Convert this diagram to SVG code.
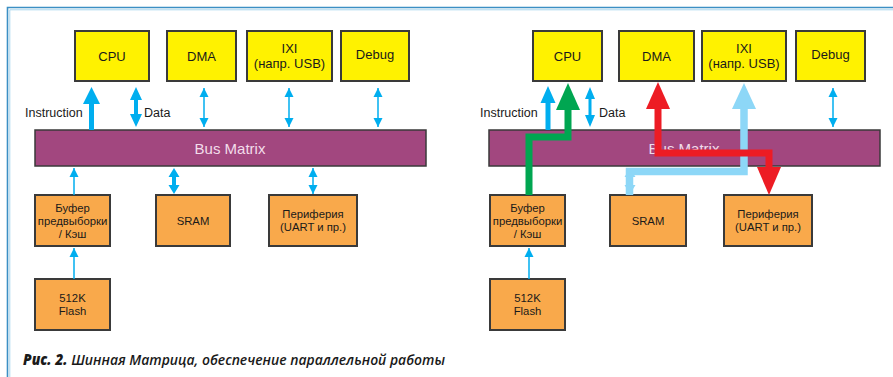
<svg xmlns="http://www.w3.org/2000/svg" width="893" height="377" viewBox="0 0 893 377">
<style>
.y{fill:#fff200;stroke:#3a3a3a;stroke-width:2}
.o{fill:#f9a94b;stroke:#3a3a3a;stroke-width:2}
.bm{fill:#a2477f;stroke:#3a3a3a;stroke-width:1.5}
.t{font-family:"Liberation Sans",Arial,sans-serif;font-size:13px;fill:#1a1a1a;text-anchor:middle}
.s{font-family:"Liberation Sans",Arial,sans-serif;font-size:11.3px;fill:#1a1a1a;text-anchor:middle}
.l{font-family:"Liberation Sans",Arial,sans-serif;font-size:12.5px;fill:#1a1a1a}
.bt{font-family:"Liberation Sans",Arial,sans-serif;font-size:15px;fill:#f2dcea;text-anchor:middle}
.thin{stroke:#00aeef;stroke-width:1.5;fill:none}
.b{fill:#00aeef}
.lb{fill:#8dd7f7}
</style>
<defs>
<marker id="th" markerUnits="userSpaceOnUse" markerWidth="9" markerHeight="10" refX="9" refY="4.5" orient="auto-start-reverse" viewBox="0 0 9 9"><path d="M0,0 L9,4.5 L0,9 z" fill="#00aeef"/></marker>
</defs>
<g id="frame" fill="none">
<path d="M893,7.5 H7.5 V377" stroke="#3b8fc4" stroke-width="1.6"/>
<path d="M893,9.8 H9.8 V377" stroke="#a9d6ee" stroke-width="1"/>
</g>
<!-- left diagram -->
<g id="L-cpu"><rect class="y" x="75" y="31" width="74" height="50"/><text class="t" x="112" y="61">CPU</text></g>
<g id="L-dma"><rect class="y" x="167" y="31" width="69" height="50"/><text class="t" x="201.5" y="61">DMA</text></g>
<g id="L-ixi"><rect class="y" x="247" y="31" width="85" height="50"/><text class="t" x="289.5" y="53">IXI</text><text class="t" x="289.5" y="68">(напр. USB)</text></g>
<g id="L-debug"><rect class="y" x="341" y="31" width="68" height="50"/><text class="t" x="375" y="59">Debug</text></g>
<g id="L-bus"><rect class="bm" x="35" y="130" width="391" height="36"/><text class="bt" x="230" y="154">Bus Matrix</text></g>
<g id="L-buf"><rect class="o" x="35" y="195" width="75" height="51"/><text class="s" x="72.5" y="212">Буфер</text><text class="s" x="72.5" y="225">предвыборки</text><text class="s" x="72.5" y="238">/ Кэш</text></g>
<g id="L-sram"><rect class="o" x="156" y="195" width="74" height="51"/><text class="s" x="193" y="225">SRAM</text></g>
<g id="L-per"><rect class="o" x="269" y="195" width="88" height="51"/><text class="s" x="313" y="218">Периферия</text><text class="s" x="313" y="231">(UART и пр.)</text></g>
<g id="L-flash"><rect class="o" x="35" y="279" width="75" height="51"/><text class="s" x="72.5" y="302">512K</text><text class="s" x="72.5" y="315">Flash</text></g>
<!-- right diagram -->
<g id="R-cpu"><rect class="y" x="533" y="31" width="69" height="50"/><text class="t" x="567.5" y="61">CPU</text></g>
<g id="R-dma"><rect class="y" x="619" y="31" width="75" height="50"/><text class="t" x="656.5" y="61">DMA</text></g>
<g id="R-ixi"><rect class="y" x="702" y="31" width="84" height="50"/><text class="t" x="744" y="53">IXI</text><text class="t" x="744" y="68">(напр. USB)</text></g>
<g id="R-debug"><rect class="y" x="796" y="31" width="69" height="50"/><text class="t" x="830.5" y="59">Debug</text></g>
<g id="R-bus"><rect class="bm" x="489" y="130" width="391" height="36"/><text class="bt" x="684" y="154">Bus Matrix</text></g>
<g id="R-buf"><rect class="o" x="490" y="195" width="75" height="51"/><text class="s" x="527.5" y="212">Буфер</text><text class="s" x="527.5" y="225">предвыборки</text><text class="s" x="527.5" y="238">/ Кэш</text></g>
<g id="R-sram"><rect class="o" x="610" y="195" width="76" height="51"/><text class="s" x="648" y="225">SRAM</text></g>
<g id="R-per"><rect class="o" x="724" y="195" width="88" height="51"/><text class="s" x="768" y="218">Периферия</text><text class="s" x="768" y="231">(UART и пр.)</text></g>
<g id="R-flash"><rect class="o" x="490" y="279" width="75" height="51"/><text class="s" x="527.5" y="302">512K</text><text class="s" x="527.5" y="315">Flash</text></g>
<g id="labels">
<text class="l" x="25" y="117">Instruction</text>
<text class="l" x="144" y="117">Data</text>
<text class="l" x="480" y="117">Instruction</text>
<text class="l" x="599" y="117">Data</text>
</g>
<g id="connectors">
<!-- left -->
<polygon class="b" points="89,130 89,104 83,104 91.5,87 100,104 94,104 94,130"/>
<polygon class="b" points="134,100 130,100 136,87 142,100 138,100 138,114 142,114 136,127 130,114 134,114"/>
<line class="thin" x1="204" y1="88" x2="204" y2="127" marker-start="url(#th)" marker-end="url(#th)"/>
<line class="thin" x1="289" y1="88" x2="289" y2="127" marker-start="url(#th)" marker-end="url(#th)"/>
<line class="thin" x1="378" y1="88" x2="378" y2="127" marker-start="url(#th)" marker-end="url(#th)"/>
<line class="thin" x1="74" y1="195" x2="74" y2="168" marker-end="url(#th)"/>
<polygon class="b" points="172,177 168.5,177 174,168 179.5,177 176,177 176,185 179.5,185 174,194 168.5,185 172,185"/>
<line class="thin" x1="313" y1="168" x2="313" y2="194" marker-start="url(#th)" marker-end="url(#th)"/>
<line class="thin" x1="74" y1="279" x2="74" y2="248" marker-end="url(#th)"/>
<!-- right -->
<polygon class="b" points="545.5,130 545.5,103 540.5,103 548,86 555.5,103 550.5,103 550.5,130"/>
<polygon class="b" points="588.5,99 585,99 590,87 595,99 591.5,99 591.5,115 595,115 590,127 585,115 588.5,115"/>
<line class="thin" x1="833" y1="88" x2="833" y2="127" marker-start="url(#th)" marker-end="url(#th)"/>
<line class="thin" x1="529" y1="279" x2="529" y2="248" marker-end="url(#th)"/>
<polygon class="lb" points="628,177 624.5,177 630,168 635.5,177 632,177 632,185 635.5,185 630,194 624.5,185 628,185"/>
<path d="M744,108 V171.5 H629.5 V195" fill="none" stroke="#8dd7f7" stroke-width="7.5"/>
<polygon class="lb" points="732,109 744,83 756,109"/>
<path d="M529,195 V137 H568 V108" fill="none" stroke="#00a651" stroke-width="7"/>
<polygon points="556,110 568,83 580,110" fill="#00a651"/>
<path d="M658,108 V153 H769 V169" fill="none" stroke="#ed1c24" stroke-width="7"/>
<polygon points="646,109 658,82 670,109" fill="#ed1c24"/>
<polygon points="757,167 769,195 781,167" fill="#ed1c24"/>
</g>
<g id="caption" font-family="'Open Sans','Liberation Sans',sans-serif" font-size="15" font-style="italic" font-weight="600" fill="#1a1a1a">
<text x="23" y="365" textLength="422" lengthAdjust="spacingAndGlyphs"><tspan font-weight="800">Рис. 2.</tspan> Шинная Матрица, обеспечение параллельной работы</text>
</g>
</svg>
